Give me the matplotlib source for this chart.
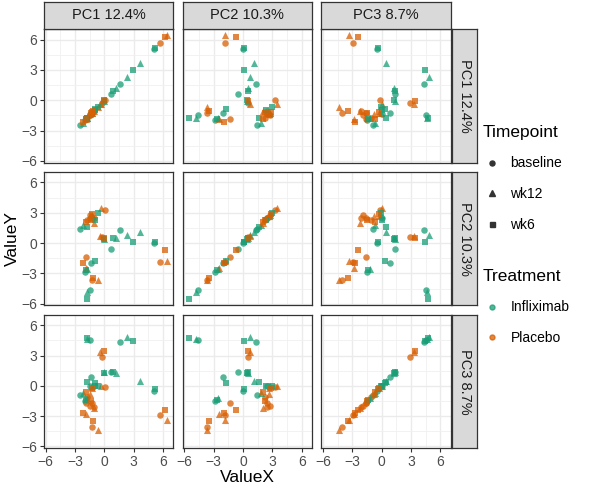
import matplotlib
matplotlib.use("Agg")
import matplotlib.pyplot as plt
from matplotlib.lines import Line2D
import numpy as np

plt.rcParams['font.family'] = ['Liberation Sans', 'DejaVu Sans']

# facet labels
pc_labels = ["PC1 12.4%", "PC2 10.3%", "PC3 8.7%"]

# one entry per sample
treatment = (["Infliximab"] * 26) + (["Placebo"] * 24)
timepoint = [
    # Infliximab
    "baseline", "wk12", "wk6",
    "baseline", "wk12", "wk6",
    "baseline", "wk6",
    "wk12", "wk6", "baseline",
    "wk12", "baseline", "wk6", "wk12", "wk6",
    "wk6", "baseline", "wk12", "wk6",
    "wk12", "baseline",
    "wk12", "baseline", "wk6",
    "wk6",
    # Placebo
    "baseline", "wk12", "wk6",
    "baseline", "wk12", "wk6",
    "baseline", "wk12", "wk6",
    "baseline", "wk12", "wk6",
    "wk12", "baseline", "wk12", "wk6", "wk12", "wk6",
    "baseline", "baseline", "wk12", "baseline", "baseline", "wk6",
]
pc1 = [
    -1.48, -1.72, -1.80,
    1.62, 2.29, 2.96,
    5.08, 5.18,
    3.64, -1.75, -1.31,
    -0.07, 0.64, 0.94, 1.18, 0.00,
    -0.64, -1.41, -1.30, -1.00,
    -2.22, -2.44,
    -1.72, -1.95, -1.85,
    -0.91,
    -0.27, -0.40, -0.03,
    5.69, 6.45, 6.25,
    -1.25, -0.64, -1.11,
    -1.82, -1.82, -2.15,
    -0.37, 0.03, -1.30, -1.82, -1.41, -1.31,
    -1.25, -1.48, -1.08, -1.72, -1.04, -1.21,
]
pc2 = [
    -4.63, -4.80, -5.56,
    1.30, 0.75, 0.15,
    0.05, 0.10,
    1.10, 1.60, -2.00,
    0.40, -0.55, 0.47, 0.53, 0.43,
    2.93, 2.50, 2.80, 2.32,
    1.80, 1.38,
    -2.53, -2.83, -2.70,
    -1.77,
    0.55, 0.70, 0.50,
    -1.87, -1.80, -0.67,
    -3.70, -3.63, -3.50,
    -1.34, -2.49, -1.95,
    3.45, 3.30, 2.63, 2.09, 2.66, 2.26,
    2.46, 2.73, 2.00, 2.27, 2.50, 2.83,
]
pc3 = [
    4.57, 4.62, 4.75,
    4.30, 4.87, 4.45,
    -0.53, -0.33,
    0.46, 0.40, 0.89,
    1.39, 1.36, 1.36, 1.26, 1.30,
    -0.03, 0.00, -0.05, 0.03,
    -0.66, -0.87,
    -1.23, -1.52, -1.40,
    0.30,
    2.88, 3.30, 3.42,
    -2.91, -3.38, -2.38,
    -4.04, -4.35, -3.44,
    -1.65, -2.81, -2.70,
    0.03, -0.15, -0.25, -0.65, -0.78, -1.49,
    -1.65, -1.95, -2.20, -1.13, -2.10, -0.23,
]

time_levels = ["baseline", "wk12", "wk6"]
treat_levels = ["Infliximab", "Placebo"]
markers = {"baseline": "o", "wk12": "^", "wk6": "s"}
msize = {"baseline": 22, "wk12": 26, "wk6": 19}
colors = {"Infliximab": "#1B9E77", "Placebo": "#D95F02"}

pcs = [np.array(pc1), np.array(pc2), np.array(pc3)]
treat_arr = np.array(treatment)
time_arr = np.array(timepoint)

allv = np.concatenate(pcs)
lo, hi = allv.min(), allv.max()
pad = 0.05 * (hi - lo)
lims = (lo - pad, hi + pad)

W, H = 600, 492


def box(x0, y0, x1, y1):
    return [x0 / W, 1 - y1 / H, (x1 - x0) / W, (y1 - y0) / H]


fig = plt.figure(figsize=(6, 4.92), dpi=100)

pw, ph = 129.3, 133.5
col_x = [44 + j * 138.7 for j in range(3)]
row_y = [29 + i * 142.8 for i in range(3)]
border = "#333333"

for i in range(3):
    for j in range(3):
        x0, y0 = col_x[j], row_y[i]
        ax = fig.add_axes(box(x0, y0, x0 + pw, y0 + ph))
        for t in time_levels:
            for tr in treat_levels:
                m = (time_arr == t) & (treat_arr == tr)
                ax.scatter(pcs[j][m], pcs[i][m], marker=markers[t], s=msize[t],
                           color=colors[tr], alpha=0.75, linewidths=0, zorder=3)
        ax.set_xlim(lims)
        ax.set_ylim(lims)
        ax.set_xticks([-6, -3, 0, 3, 6])
        ax.set_yticks([-6, -3, 0, 3, 6])
        ax.set_xticks([-4.5, -1.5, 1.5, 4.5], minor=True)
        ax.set_yticks([-4.5, -1.5, 1.5, 4.5], minor=True)
        ax.grid(which="major", color="#EBEBEB", lw=1.0)
        ax.grid(which="minor", color="#F0F0F0", lw=0.6)
        ax.set_axisbelow(True)
        for sp in ax.spines.values():
            sp.set_color(border)
            sp.set_linewidth(0.9)
        ax.tick_params(which="minor", length=0)
        ax.tick_params(which="major", length=3, width=0.8, color=border,
                       labelcolor="#4D4D4D", labelsize=10, pad=2)
        if j != 0:
            ax.tick_params(axis="y", left=False, labelleft=False)
        if i != 2:
            ax.tick_params(axis="x", bottom=False, labelbottom=False)

# strips on top (columns) and right (rows)
for j in range(3):
    x0 = col_x[j]
    sa = fig.add_axes(box(x0, 2, x0 + pw, 28.5))
    sa.set_facecolor("#D9D9D9")
    sa.set_xticks([])
    sa.set_yticks([])
    for sp in sa.spines.values():
        sp.set_color(border)
        sp.set_linewidth(0.9)
    sa.text(0.5, 0.5, pc_labels[j], ha="center", va="center", fontsize=10.5,
            color="#1A1A1A", transform=sa.transAxes)

for i in range(3):
    y0 = row_y[i]
    sa = fig.add_axes(box(452, y0, 477.5, y0 + ph))
    sa.set_facecolor("#D9D9D9")
    sa.set_xticks([])
    sa.set_yticks([])
    for sp in sa.spines.values():
        sp.set_color(border)
        sp.set_linewidth(0.9)
    sa.text(0.5, 0.5, pc_labels[i], ha="center", va="center", fontsize=10.5,
            rotation=-90, color="#1A1A1A", transform=sa.transAxes)

fig.text((44 + col_x[2] + pw) / 2 / W, 1 - 478 / H, "ValueX", ha="center",
         va="center", fontsize=12.5)
fig.text(12 / W, 1 - 238 / H, "ValueY", ha="center", va="center",
         rotation=90, fontsize=12.5)

# legends
shape_handles = [Line2D([], [], ls="none", marker=markers[t], color="#333333",
                        markersize=3.6 if t != "wk12" else 4.0) for t in time_levels]
leg1 = fig.legend(shape_handles, time_levels, title="Timepoint",
                  loc="upper left", bbox_to_anchor=(473 / W, 1 - 115 / H),
                  frameon=False, fontsize=10, title_fontsize=12.5,
                  labelspacing=1.2, handletextpad=0.6, handlelength=1.4,
                  borderpad=0.2, alignment="left")
col_handles = [Line2D([], [], ls="none", marker="o", color=colors[tr],
                      markersize=3.6, alpha=0.75) for tr in treat_levels]
leg2 = fig.legend(col_handles, treat_levels, title="Treatment",
                  loc="upper left", bbox_to_anchor=(473 / W, 1 - 259 / H),
                  frameon=False, fontsize=10, title_fontsize=12.5,
                  labelspacing=1.2, handletextpad=0.6, handlelength=1.4,
                  borderpad=0.2, alignment="left")

fig.savefig("out.png", dpi=100)
